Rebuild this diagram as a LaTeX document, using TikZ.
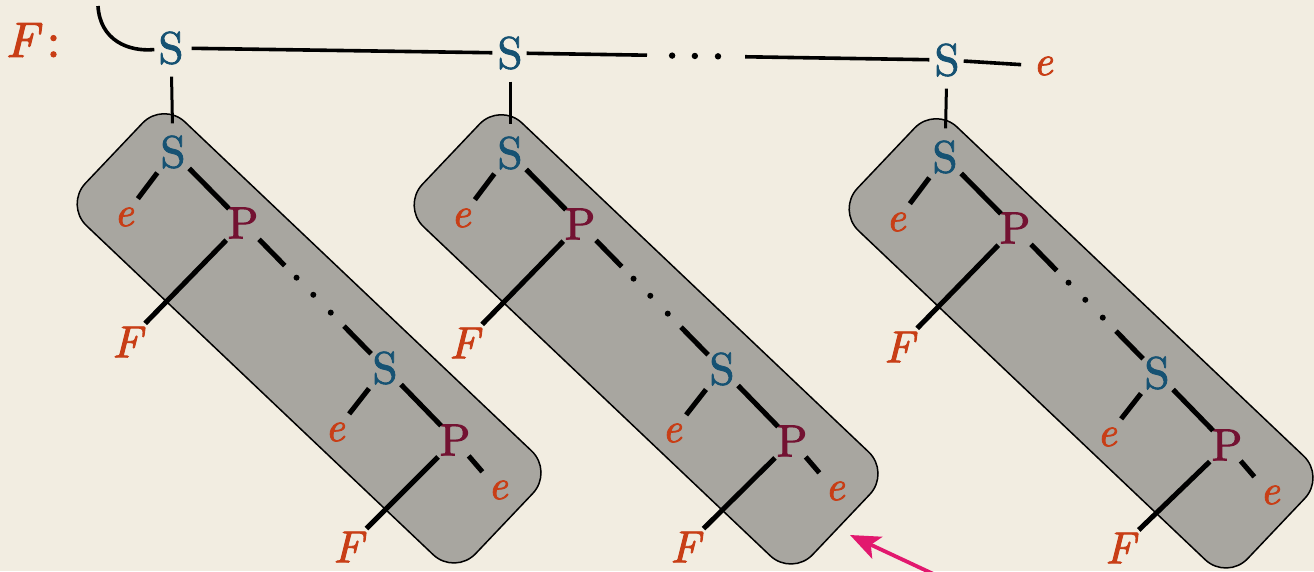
\documentclass[tikz,border=0pt]{standalone}
\usepackage{fontspec}
\newfontfamily\symfont{lmroman10-regular.otf}[ItalicFont=lmroman10-italic.otf, FakeBold=2]
\usetikzlibrary{calc,arrows.meta}

\definecolor{paper}{RGB}{242,237,225}
\definecolor{boxgray}{RGB}{168,166,160}
\definecolor{sblue}{RGB}{22,82,115}
\definecolor{pred}{RGB}{115,18,50}
\definecolor{eorg}{RGB}{200,62,22}
\definecolor{pinkarr}{RGB}{226,24,110}

\tikzset{
  sym/.style={inner sep=0pt, font=\symfont\fontsize{45}{50}\selectfont},
  snode/.style={sym, text=sblue},
  pnode/.style={sym, text=pred},
  fnode/.style={inner sep=0pt, text=eorg, font=\symfont\fontsize{45}{50}\selectfont\itshape},
  enode/.style={inner sep=0pt, text=eorg, font=\symfont\fontsize{42}{46}\selectfont\itshape},
  groupbox/.style={draw=black, line width=1.5pt, fill=boxgray, rounded corners=30pt},
  topline/.style={line width=3.6pt},
  vlink/.style={line width=3pt, shorten <=12pt, shorten >=12pt},
  link/.style={line width=5pt},
  pinkline/.style={draw=pinkarr, line width=3.8pt,
    -{Stealth[length=30pt, width=24pt, inset=7pt]}}
}

\begin{document}
\begin{tikzpicture}[x=1pt, y=-1pt]
  % paper
  \fill[paper] (0,0) rectangle (1314,571);
  \useasboundingbox (0,0) rectangle (1314,571);

  % top level: F: S ---- S ---- ... ---- S -- e
  \node[fnode, font=\symfont\fontsize{50}{54}\selectfont\itshape] (Flab) at (33,40) {F\,\upshape :};
  \node[snode] (T1) at (171,48) {S};
  \node[snode] (T2) at (510,53) {S};
  \node[snode] (T3) at (947,60) {S};
  \node[enode] (etop) at (1043,66) {e};
  \coordinate (arcstart) at (98,6);

  \draw[topline, shorten >=4pt] (arcstart) .. controls (100,40) and (128,52) .. (T1);
  \draw[topline, shorten <=8pt, shorten >=5pt] (T1) -- (T2);
  \draw[topline, shorten <=4pt] (T2) -- ($(T2)!0.3135!(T3)$);
  \foreach \t in {0.371,0.423,0.476}
    \fill ($(T2)!\t!(T3)$) circle (3.2pt);
  \draw[topline, shorten >=5pt] ($(T2)!0.538!(T3)$) -- (T3);
  \draw[topline, shorten <=4pt, shorten >=12pt] (T3) -- (etop);

  % the three sub-chains, each in its shaded box
  \foreach \g/\ox/\oy/\fy in {1/173/152/395, 2/510/153/394, 3/945/157/391} {
    \begin{scope}[shift={(\ox,\oy)}]
      \begin{scope}[rotate=-43.5]
        \draw[groupbox] (-42,-30) rectangle (496,113);
      \end{scope}
      \node[snode] (Sa\g) at (0,0) {S};
      \node[enode] (ea\g) at (-49,65) {e};
      \node[pnode] (Pa\g) at (70,71) {P};
      \node[fnode] (Fa\g) at (-46,190) {F};
      \node[snode] (Sb\g) at (212,216) {S};
      \node[enode] (eb\g) at (162,280) {e};
      \node[pnode] (Pb\g) at (282,288) {P};
      \node[enode] (ec\g) at (325,338) {e};
      \node[fnode] (Fb\g) at (175,\fy) {F};
    \end{scope}

    \draw[vlink] (T\g) -- (Sa\g);

    % S -- e, S -- P, P -- F
    \draw[link, shorten <=26pt, shorten >=23pt] (Sa\g.center) -- (ea\g.center);
    \draw[link, shorten <=23pt, shorten >=20pt] (Sa\g.center) -- (Pa\g.center);
    \draw[link, shorten <=24pt, shorten >=26pt] (Pa\g.center) -- (Fa\g.center);

    % P -- . . . -- S
    \draw[link] ($(Pa\g)!0.113!(Sb\g)$) -- ($(Pa\g)!0.294!(Sb\g)$);
    \foreach \t in {0.377,0.495,0.618}
      \fill ($(Pa\g)!\t!(Sb\g)$) circle (3pt);
    \draw[link] ($(Pa\g)!0.711!(Sb\g)$) -- ($(Pa\g)!0.902!(Sb\g)$);

    \draw[link, shorten <=26pt, shorten >=23pt] (Sb\g.center) -- (eb\g.center);
    \draw[link, shorten <=23pt, shorten >=20pt] (Sb\g.center) -- (Pb\g.center);
    \draw[link, shorten <=24pt, shorten >=26pt] (Pb\g.center) -- (Fb\g.center);
    \draw[link, shorten <=21pt, shorten >=24pt] (Pb\g.center) -- (ec\g.center);
  }

  % pointer
  \coordinate (ptail) at (942,578);
  \coordinate (ptip) at (850,535);
  \draw[pinkline] (ptail) -- (ptip);
\end{tikzpicture}
\end{document}
